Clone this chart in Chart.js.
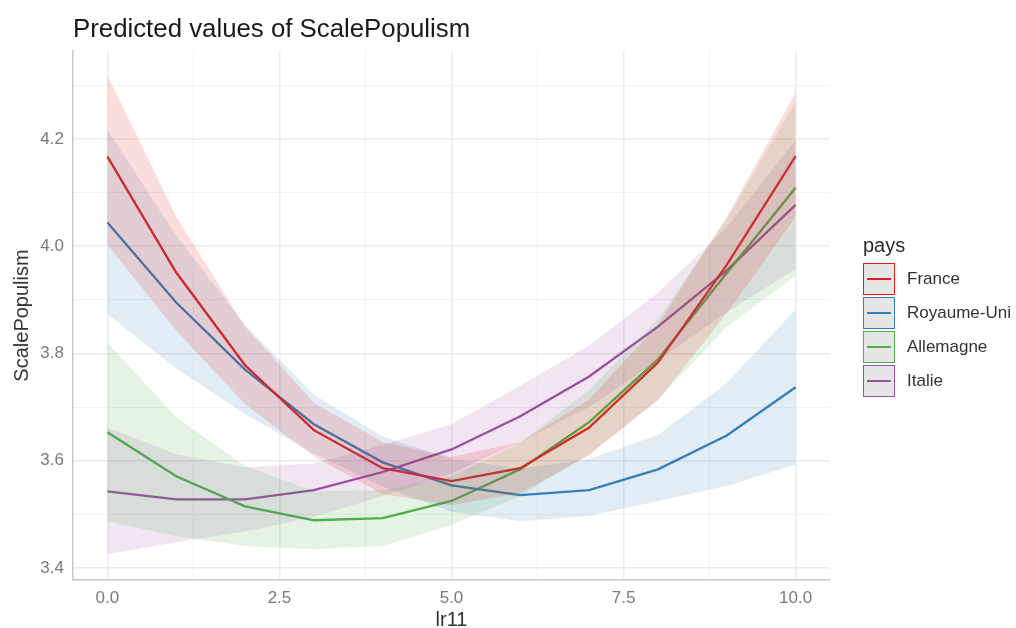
<!DOCTYPE html>
<html>
<head>
<meta charset="utf-8">
<script src="https://cdn.jsdelivr.net/npm/chart.js@4/dist/chart.umd.min.js"></script>
<style>
  html, body { margin: 0; padding: 0; background: #ffffff; }
  #wrap { position: relative; width: 1016px; height: 628px; font-family: "Liberation Sans", Arial, sans-serif; }
  #c { position: absolute; left: 0; top: 0; }
  #title { position: absolute; left: 73px; top: 13px; font-size: 25.8px; line-height: 30px; color: #1a1a1a; white-space: nowrap; }
  #legend { position: absolute; left: 863px; top: 231px; }
  #legend .lt { font-size: 20px; line-height: 28px; color: #2b2b2b; height: 32px; }
  #legend .item { position: relative; height: 34px; }
  #legend .key { position: absolute; left: 0; top: 0; width: 30px; height: 30px; background: #e6e6e6; border: 1.5px solid; }
  #legend .key span { position: absolute; left: 3px; right: 3px; top: 14px; height: 2px; }
  #legend .lab { position: absolute; left: 44px; top: 6px; font-size: 17px; line-height: 20px; color: #333333; white-space: nowrap; }
</style>
</head>
<body>
<div id="wrap">
  <canvas id="c" width="1016" height="628"></canvas>
  <div id="title">Predicted values of ScalePopulism</div>
  <div id="legend"></div>
</div>
<script>
const lr11 = [0, 1, 2, 3, 4, 5, 6, 7, 8, 9, 10];
const countries = ["France", "Royaume-Uni", "Allemagne", "Italie"];
const colors = ["#E41A1C", "#377EB8", "#4DAF4A", "#984EA3"];

const france     = [4.167, 3.951, 3.778, 3.657, 3.586, 3.562, 3.586, 3.662, 3.783, 3.965, 4.168];
const franceLow  = [4.003, 3.843, 3.706, 3.608, 3.538, 3.517, 3.540, 3.610, 3.713, 3.875, 4.055];
const franceHigh = [4.319, 4.055, 3.850, 3.708, 3.635, 3.607, 3.635, 3.714, 3.853, 4.055, 4.286];

const uk     = [4.044, 3.895, 3.770, 3.668, 3.597, 3.554, 3.536, 3.545, 3.584, 3.647, 3.737];
const ukLow  = [3.873, 3.772, 3.687, 3.613, 3.552, 3.505, 3.487, 3.497, 3.525, 3.553, 3.593];
const ukHigh = [4.217, 4.020, 3.853, 3.723, 3.645, 3.603, 3.585, 3.603, 3.648, 3.745, 3.882];

const germany     = [3.653, 3.571, 3.515, 3.489, 3.493, 3.525, 3.584, 3.672, 3.789, 3.950, 4.109];
const germanyLow  = [3.487, 3.459, 3.441, 3.435, 3.441, 3.480, 3.534, 3.612, 3.714, 3.850, 3.945];
const germanyHigh = [3.820, 3.681, 3.590, 3.543, 3.545, 3.570, 3.634, 3.732, 3.864, 4.050, 4.270];

const italy     = [3.543, 3.528, 3.528, 3.545, 3.579, 3.621, 3.683, 3.757, 3.850, 3.955, 4.077];
const italyLow  = [3.426, 3.448, 3.468, 3.495, 3.534, 3.576, 3.636, 3.700, 3.787, 3.877, 3.958];
const italyHigh = [3.662, 3.612, 3.588, 3.595, 3.630, 3.668, 3.740, 3.815, 3.913, 4.035, 4.198];

const xTicks = [0, 1.25, 2.5, 3.75, 5, 6.25, 7.5, 8.75, 10];
const xMajor = [0, 2.5, 5, 7.5, 10];
const yTicks = [3.4, 3.5, 3.6, 3.7, 3.8, 3.9, 4.0, 4.1, 4.2, 4.3];
const yMajor = [3.4, 3.6, 3.8, 4.0, 4.2];

const fits = [france, uk, germany, italy];
const lows = [franceLow, ukLow, germanyLow, italyLow];
const highs = [franceHigh, ukHigh, germanyHigh, italyHigh];

function pts(arr) { return lr11.map((x, i) => ({ x: x, y: arr[i] })); }
function rgba(hex, a) {
  const n = parseInt(hex.slice(1), 16);
  return `rgba(${(n >> 16) & 255},${(n >> 8) & 255},${n & 255},${a})`;
}

const datasets = [];
// lines first (drawn underneath ribbons)
fits.forEach((arr, k) => {
  datasets.push({
    label: countries[k], data: pts(arr), borderColor: colors[k], backgroundColor: colors[k],
    borderWidth: 2.3, pointRadius: 0, tension: 0, fill: false, order: 2
  });
});
// ribbons
fits.forEach((arr, k) => {
  const lowIndex = datasets.length;
  datasets.push({
    label: countries[k] + " low", data: pts(lows[k]), borderWidth: 0, borderColor: "rgba(0,0,0,0)",
    pointRadius: 0, tension: 0, fill: false, order: 1
  });
  datasets.push({
    label: countries[k] + " high", data: pts(highs[k]), borderWidth: 0, borderColor: "rgba(0,0,0,0)",
    backgroundColor: rgba(colors[k], 0.15), pointRadius: 0, tension: 0, fill: { target: lowIndex }, order: 1
  });
});

const isIn = (v, list) => list.some(m => Math.abs(m - v) < 1e-6);

new Chart(document.getElementById("c"), {
  type: "line",
  data: { datasets: datasets },
  options: {
    responsive: false,
    animation: false,
    devicePixelRatio: 1,
    layout: { padding: { top: 51, right: 186, left: 0, bottom: 0 } },
    plugins: {
      legend: { display: false },
      tooltip: { enabled: false },
      filler: { drawTime: "beforeDatasetDraw" }
    },
    scales: {
      x: {
        type: "linear", min: -0.5, max: 10.5,
        afterBuildTicks: s => { s.ticks = xTicks.map(v => ({ value: v, major: isIn(v, xMajor) })); },
        afterFit: s => { s.height = 48; },
        ticks: {
          autoSkip: false, maxRotation: 0, padding: 8, color: "#7a7a7a",
          font: { family: "Liberation Sans", size: 17 },
          callback: v => isIn(v, xMajor) ? v.toFixed(1) : ""
        },
        grid: {
          drawTicks: false,
          color: c => (c.tick && isIn(c.tick.value, xMajor)) ? "#ebebeb" : "#f2f2f2",
          lineWidth: c => (c.tick && isIn(c.tick.value, xMajor)) ? 1.5 : 1
        },
        border: { display: true, color: "#c9c9c9", width: 1.6 },
        title: { display: true, text: "lr11", color: "#333333", font: { family: "Liberation Sans", size: 20, lineHeight: 0.8 }, padding: { top: 0, bottom: 0 } }
      },
      y: {
        type: "linear", min: 3.3776, max: 4.364,
        afterBuildTicks: s => { s.ticks = yTicks.map(v => ({ value: v, major: isIn(v, yMajor) })); },
        afterFit: s => { s.width = 73; },
        ticks: {
          autoSkip: false, padding: 9, color: "#7a7a7a",
          font: { family: "Liberation Sans", size: 17 },
          callback: v => isIn(v, yMajor) ? v.toFixed(1) : ""
        },
        grid: {
          drawTicks: false,
          color: c => (c.tick && isIn(c.tick.value, yMajor)) ? "#ebebeb" : "#f2f2f2",
          lineWidth: c => (c.tick && isIn(c.tick.value, yMajor)) ? 1.5 : 1
        },
        border: { display: true, color: "#c9c9c9", width: 1.6 },
        title: { display: true, text: "ScalePopulism", color: "#333333", font: { family: "Liberation Sans", size: 20, lineHeight: 1.2 }, padding: { top: 10, bottom: 0 } }
      }
    }
  }
});

// legend (HTML, real text)
const lg = document.getElementById("legend");
const t = document.createElement("div"); t.className = "lt"; t.textContent = "pays"; lg.appendChild(t);
countries.forEach((name, k) => {
  const it = document.createElement("div"); it.className = "item";
  const key = document.createElement("div"); key.className = "key"; key.style.borderColor = colors[k];
  const ln = document.createElement("span"); ln.style.background = colors[k]; key.appendChild(ln);
  const lab = document.createElement("div"); lab.className = "lab"; lab.textContent = name;
  it.appendChild(key); it.appendChild(lab); lg.appendChild(it);
});
</script>
</body>
</html>
